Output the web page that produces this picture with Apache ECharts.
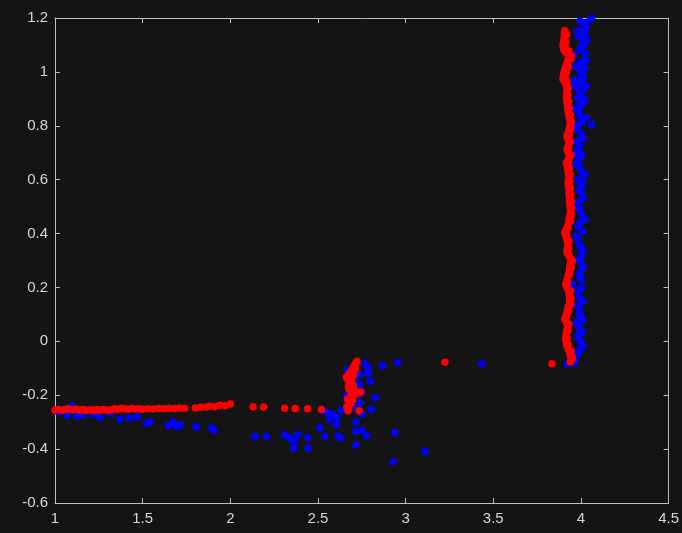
<!DOCTYPE html>
<html>
<head>
<meta charset="utf-8">
<script src="https://cdn.jsdelivr.net/npm/echarts@6/dist/echarts.min.js"></script>
<style>
  html, body { margin: 0; padding: 0; background: #141414; }
  #chart { width: 682px; height: 533px; }
</style>
</head>
<body>
<div id="chart"></div>
<script>
// Axis ticks
const xTicks = [1, 1.5, 2, 2.5, 3, 3.5, 4, 4.5];
const yTicks = [-0.6, -0.4, -0.2, 0, 0.2, 0.4, 0.6, 0.8, 1, 1.2];

// Red track: low horizontal run
const redHorizontal = [
  [1.00,-0.255],[1.02,-0.253],[1.04,-0.256],[1.06,-0.252],[1.08,-0.250],[1.10,-0.254],
  [1.12,-0.252],[1.14,-0.255],[1.16,-0.253],[1.18,-0.256],[1.20,-0.254],[1.22,-0.256],
  [1.24,-0.253],[1.26,-0.255],[1.28,-0.253],[1.30,-0.256],[1.32,-0.254],[1.34,-0.250],
  [1.36,-0.252],[1.38,-0.248],[1.40,-0.250],[1.42,-0.252],[1.44,-0.249],[1.46,-0.251],
  [1.48,-0.250],[1.50,-0.252],[1.53,-0.250],[1.56,-0.251],[1.59,-0.249],[1.62,-0.250],
  [1.65,-0.248],[1.68,-0.249],[1.71,-0.247],[1.74,-0.248],[1.80,-0.247],[1.83,-0.245],
  [1.86,-0.244],[1.88,-0.241],[1.91,-0.243],[1.94,-0.237],[1.97,-0.239],[2.00,-0.233],
  [2.13,-0.243],[2.19,-0.244],[2.31,-0.248],[2.37,-0.249],[2.44,-0.250],[2.52,-0.253]
];

// Red track: short step near x = 2.7, plus stray points further right
const redStep = [
  [2.672,-0.258],[2.675,-0.250],[2.671,-0.242],[2.678,-0.235],[2.674,-0.226],[2.680,-0.218],
  [2.683,-0.210],[2.690,-0.204],[2.700,-0.200],[2.712,-0.196],[2.730,-0.190],[2.745,-0.188],
  [2.695,-0.190],[2.685,-0.184],[2.678,-0.178],[2.674,-0.170],[2.676,-0.162],[2.684,-0.156],
  [2.692,-0.150],[2.688,-0.142],[2.680,-0.136],[2.674,-0.128],[2.678,-0.120],[2.688,-0.114],
  [2.696,-0.108],[2.700,-0.100],[2.706,-0.094],[2.712,-0.086],[2.718,-0.079],[2.722,-0.074],
  [2.665,-0.245],[2.668,-0.215],[2.690,-0.175],[2.702,-0.165],[2.668,-0.140],[2.702,-0.125],
  [2.712,-0.105],[2.690,-0.230],[2.697,-0.220],[2.708,-0.182],[2.662,-0.132],[2.714,-0.099],
  [2.735,-0.258],[3.225,-0.078],[3.834,-0.083]
];

// Red track: vertical run near x = 3.92
const redVertical = [
  [3.908,1.153],[3.906,1.145],[3.908,1.137],[3.905,1.128],[3.904,1.119],[3.901,1.110],
  [3.898,1.100],[3.900,1.090],[3.904,1.081],[3.912,1.074],[3.921,1.069],[3.934,1.064],
  [3.946,1.059],[3.936,1.052],[3.926,1.044],[3.921,1.035],[3.917,1.026],[3.912,1.016],
  [3.908,1.007],[3.904,0.998],[3.902,0.989],[3.899,0.981],[3.898,0.973],[3.905,0.965],
  [3.913,0.958],[3.917,0.946],[3.921,0.933],[3.919,0.921],[3.917,0.909],[3.919,0.896],
  [3.921,0.884],[3.924,0.871],[3.926,0.859],[3.929,0.846],[3.932,0.834],[3.936,0.822],
  [3.940,0.810],[3.936,0.797],[3.932,0.785],[3.926,0.772],[3.921,0.760],[3.927,0.748],
  [3.932,0.736],[3.926,0.723],[3.921,0.711],[3.929,0.698],[3.936,0.686],[3.926,0.674],
  [3.917,0.662],[3.922,0.649],[3.926,0.637],[3.929,0.624],[3.932,0.612],[3.929,0.600],
  [3.926,0.588],[3.929,0.576],[3.932,0.564],[3.932,0.551],[3.934,0.539],[3.936,0.526],
  [3.936,0.514],[3.938,0.502],[3.940,0.489],[3.940,0.477],[3.936,0.465],[3.932,0.452],
  [3.932,0.440],[3.924,0.428],[3.916,0.415],[3.908,0.403],[3.914,0.391],[3.920,0.378],
  [3.926,0.366],[3.924,0.354],[3.922,0.341],[3.921,0.329],[3.933,0.316],[3.946,0.304],
  [3.941,0.292],[3.936,0.279],[3.936,0.267],[3.931,0.254],[3.926,0.242],[3.920,0.226],
  [3.913,0.211],[3.922,0.196],[3.932,0.180],[3.934,0.168],[3.936,0.155],[3.936,0.143],
  [3.929,0.131],[3.924,0.119],[3.921,0.107],[3.914,0.094],[3.908,0.082],[3.917,0.070],
  [3.926,0.057],[3.921,0.045],[3.917,0.033],[3.915,0.020],[3.913,0.007],[3.917,-0.005],
  [3.921,-0.017],[3.928,-0.030],[3.936,-0.042],[3.941,-0.055],[3.946,-0.067],[3.940,-0.077]
];

// Red track: second column of points that widens the vertical run
const redVerticalEdge = [
  [3.918,1.140],[3.914,1.112],[3.910,1.094],[3.930,1.078],[3.942,1.048],[3.928,1.020],
  [3.918,1.000],[3.910,0.978],[3.920,0.962],[3.928,0.940],[3.926,0.915],[3.930,0.890],
  [3.934,0.865],[3.940,0.840],[3.946,0.815],[3.942,0.790],[3.934,0.766],[3.938,0.742],
  [3.930,0.717],[3.942,0.692],[3.930,0.668],[3.934,0.643],[3.940,0.618],[3.936,0.594],
  [3.940,0.570],[3.942,0.545],[3.946,0.520],[3.948,0.495],[3.946,0.470],[3.940,0.446],
  [3.926,0.420],[3.916,0.397],[3.932,0.372],[3.930,0.347],[3.930,0.322],[3.952,0.298],
  [3.944,0.273],[3.934,0.248],[3.922,0.218],[3.940,0.188],[3.944,0.160],[3.942,0.137],
  [3.930,0.113],[3.918,0.088],[3.932,0.063],[3.926,0.038],[3.922,0.013],[3.928,-0.011],
  [3.944,-0.036],[3.952,-0.060]
];

// Blue track: low scattered run and cluster near x = 2.7
const blueLow = [
  [1.020,-0.262],[1.067,-0.274],[1.095,-0.240],[1.124,-0.277],[1.161,-0.273],[1.218,-0.270],
  [1.257,-0.283],[1.314,-0.268],[1.371,-0.289],[1.424,-0.284],[1.468,-0.280],[1.522,-0.305],
  [1.542,-0.298],[1.646,-0.311],[1.674,-0.299],[1.694,-0.316],[1.713,-0.311],[1.804,-0.317],
  [1.893,-0.322],[1.906,-0.330],[2.140,-0.353],[2.207,-0.353],[2.311,-0.347],[2.336,-0.359],
  [2.363,-0.371],[2.363,-0.396],[2.384,-0.346],[2.441,-0.358],[2.444,-0.397],[2.511,-0.322],
  [2.539,-0.353],[2.539,-0.260],[2.564,-0.289],[2.578,-0.270],[2.606,-0.283],[2.605,-0.309],
  [2.615,-0.351],[2.628,-0.358],[2.633,-0.256],[2.663,-0.203],[2.670,-0.106],[2.716,-0.299],
  [2.716,-0.334],[2.749,-0.330],[2.716,-0.385],[2.777,-0.351],[2.752,-0.270],[2.803,-0.252],
  [2.826,-0.208],[2.798,-0.149],[2.786,-0.119],[2.786,-0.100],[2.768,-0.082],[2.729,-0.122],
  [2.735,-0.159],[2.739,-0.227],[2.749,-0.190],[2.783,-0.114],[2.735,-0.126],[2.690,-0.150],
  [2.700,-0.240],[2.868,-0.091],[2.956,-0.079],[2.938,-0.338],[3.109,-0.409],[2.929,-0.447],
  [3.433,-0.083]
];

// Blue track: vertical run near x = 4.0
const blueVertical = [
  [4.060,1.199],[4.037,1.184],[4.022,1.174],[4.026,1.162],[3.983,1.152],[4.022,1.143],
  [3.993,1.137],[3.983,1.131],[4.031,1.119],[4.018,1.100],[4.022,1.069],[3.961,1.063],
  [4.031,1.044],[3.974,1.020],[4.022,1.014],[4.006,0.991],[3.965,0.970],[4.003,0.967],
  [3.969,0.949],[4.031,0.949],[4.012,0.933],[3.993,0.925],[3.983,0.903],[4.012,0.890],
  [4.003,0.878],[3.989,0.871],[3.983,0.853],[3.993,0.841],[4.031,0.829],[4.060,0.804],
  [3.965,0.797],[3.983,0.785],[4.003,0.767],[3.974,0.742],[3.993,0.723],[3.974,0.699],
  [3.993,0.680],[3.974,0.656],[4.003,0.631],[4.022,0.619],[3.983,0.600],[4.003,0.575],
  [4.003,0.551],[3.983,0.514],[3.993,0.489],[4.022,0.452],[3.983,0.427],[3.974,0.390],
  [3.993,0.353],[4.004,0.322],[4.003,0.291],[3.993,0.254],[4.003,0.230],[3.955,0.211],
  [4.003,0.199],[3.993,0.162],[3.983,0.131],[3.993,0.094],[3.974,0.069],[3.993,0.044],
  [3.983,0.020],[4.003,-0.005],[3.993,-0.030],[3.974,-0.054],[3.955,-0.073],[3.923,-0.085],
  [3.995,1.188],[4.010,1.105],[3.995,1.085],[4.012,1.040],[3.990,1.030],[3.998,1.003],
  [4.015,0.980],[3.985,0.958],[4.000,0.912],[4.020,0.895],[3.975,0.865],[4.008,0.815],
  [3.990,0.810],[4.012,0.752],[3.985,0.710],[4.005,0.690],[3.985,0.668],[3.995,0.645],
  [4.010,0.590],[3.990,0.563],[4.012,0.530],[3.990,0.500],[4.005,0.470],[3.995,0.440],
  [4.010,0.408],[3.985,0.372],[4.012,0.340],[3.988,0.305],[4.010,0.272],[3.992,0.240],
  [3.985,0.185],[4.012,0.148],[3.995,0.112],[4.010,0.080],[3.988,0.057],[4.008,0.032],
  [3.990,0.005],[4.010,-0.018],[3.985,-0.042],[3.965,-0.080]
];

const AXIS_COLOR = '#bfbfbf';
const LABEL_COLOR = '#d6d6d6';
const FONT = '"Liberation Sans", Arial, sans-serif';
const fmt = v => String(+v.toFixed(1));

function xAxisDef(pos, showLabels) {
  return {
    type: 'value', position: pos,
    min: xTicks[0], max: xTicks[xTicks.length - 1], interval: 0.5,
    axisLine: { show: true, onZero: false, lineStyle: { color: AXIS_COLOR, width: 1 } },
    axisTick: { show: true, inside: true, length: 5, lineStyle: { color: AXIS_COLOR } },
    axisLabel: { show: showLabels, color: LABEL_COLOR, fontSize: 15, fontFamily: FONT, margin: 8, formatter: fmt },
    splitLine: { show: false }
  };
}
function yAxisDef(pos, showLabels) {
  return {
    type: 'value', position: pos,
    min: yTicks[0], max: yTicks[yTicks.length - 1], interval: 0.2,
    axisLine: { show: true, onZero: false, lineStyle: { color: AXIS_COLOR, width: 1 } },
    axisTick: { show: true, inside: true, length: 5, lineStyle: { color: AXIS_COLOR } },
    axisLabel: { show: showLabels, color: LABEL_COLOR, fontSize: 15, fontFamily: FONT, margin: 7, formatter: fmt },
    splitLine: { show: false }
  };
}

const chart = echarts.init(document.getElementById('chart'), null, { renderer: 'canvas' });
chart.setOption({
  backgroundColor: '#141414',
  animation: false,
  grid: { left: 55, right: 13, top: 18, bottom: 30, containLabel: false },
  xAxis: [xAxisDef('bottom', true), xAxisDef('top', false)],
  yAxis: [yAxisDef('left', true), yAxisDef('right', false)],
  series: [
    { type: 'scatter', name: 'blue', symbolSize: 7.5, itemStyle: { color: '#0000ff', opacity: 1 },
      data: blueLow.concat(blueVertical) },
    { type: 'scatter', name: 'red', symbolSize: 7.5, itemStyle: { color: '#ff0000', opacity: 1 },
      data: redHorizontal.concat(redStep, redVertical, redVerticalEdge) }
  ]
});
</script>
</body>
</html>
